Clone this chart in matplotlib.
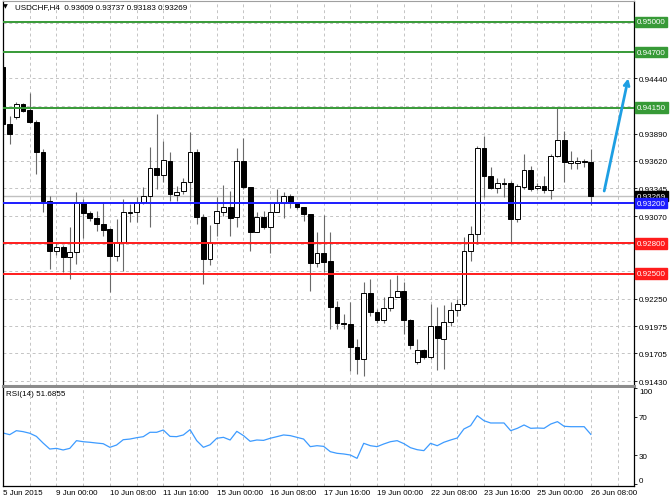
import matplotlib
matplotlib.use("Agg")
import matplotlib.pyplot as plt
import numpy as np

# USDCHF H4, 5 Jun 2015 16:00 .. 26 Jun 2015 08:00 (89 bars)
bar_open = [0.94553, 0.93986, 0.94056, 0.94185, 0.94125, 0.94006, 0.93708, 0.93221, 0.92724, 0.92763,
            0.92664, 0.92714, 0.93201, 0.93101, 0.93052, 0.92992, 0.92942, 0.92674, 0.92813, 0.93101,
            0.93111, 0.93211, 0.93270, 0.93549, 0.93479, 0.93618, 0.93280, 0.93320, 0.93410, 0.93708,
            0.93062, 0.92644, 0.93002, 0.93111, 0.93161, 0.93062, 0.93618, 0.93360, 0.92913, 0.93062,
            0.92962, 0.93111, 0.93201, 0.93270, 0.93201, 0.93161, 0.93092, 0.92604, 0.92704, 0.92624,
            0.92167, 0.92008, 0.91998, 0.91769, 0.91650, 0.92306, 0.92117, 0.92038, 0.92157, 0.92266,
            0.92326, 0.92038, 0.91620, 0.91740, 0.91670, 0.91978, 0.91849, 0.92018, 0.92137, 0.92197,
            0.92724, 0.92893, 0.93748, 0.93469, 0.93350, 0.93400, 0.93400, 0.93042, 0.93360, 0.93529,
            0.93350, 0.93370, 0.93330, 0.93668, 0.93827, 0.93598, 0.93598, 0.93618, 0.93609]
bar_high = [0.94573, 0.94066, 0.94205, 0.94195, 0.94294, 0.94026, 0.93738, 0.93270, 0.92803, 0.92783,
            0.92962, 0.93310, 0.93241, 0.93121, 0.93121, 0.93211, 0.92952, 0.93042, 0.93241, 0.93191,
            0.93260, 0.93360, 0.93757, 0.94086, 0.93817, 0.93708, 0.93370, 0.93449, 0.93907, 0.93738,
            0.93092, 0.92982, 0.93260, 0.93380, 0.93320, 0.93748, 0.93847, 0.93360, 0.93111, 0.93121,
            0.93211, 0.93340, 0.93310, 0.93290, 0.93211, 0.93161, 0.93092, 0.92913, 0.93082, 0.92913,
            0.92227, 0.92098, 0.92217, 0.91849, 0.92416, 0.92445, 0.92147, 0.92266, 0.92445, 0.92485,
            0.92416, 0.92048, 0.91849, 0.91750, 0.92197, 0.92167, 0.92187, 0.92217, 0.92247, 0.92863,
            0.92972, 0.93767, 0.93867, 0.93559, 0.93449, 0.93449, 0.93420, 0.93390, 0.93688, 0.93569,
            0.93400, 0.93469, 0.93688, 0.94155, 0.93917, 0.93718, 0.93658, 0.93638, 0.93737]
bar_low = [0.93966, 0.93787, 0.94036, 0.94105, 0.93996, 0.93489, 0.93111, 0.92545, 0.92684, 0.92515,
           0.92445, 0.92595, 0.92853, 0.93022, 0.92923, 0.92873, 0.92316, 0.92624, 0.92525, 0.93012,
           0.93012, 0.93191, 0.92962, 0.93340, 0.93410, 0.93221, 0.93221, 0.93290, 0.93221, 0.92992,
           0.92396, 0.92585, 0.92873, 0.93072, 0.92873, 0.92962, 0.93340, 0.92724, 0.92913, 0.92942,
           0.92704, 0.93111, 0.93052, 0.93151, 0.93141, 0.93022, 0.92326, 0.92565, 0.92515, 0.91948,
           0.91948, 0.91948, 0.91531, 0.91501, 0.91481, 0.92078, 0.92008, 0.92008, 0.92127, 0.92266,
           0.91899, 0.91750, 0.91600, 0.91650, 0.91650, 0.91541, 0.91551, 0.91978, 0.92078, 0.92177,
           0.92624, 0.92793, 0.93260, 0.93340, 0.93300, 0.93260, 0.92793, 0.93012, 0.93340, 0.93320,
           0.93330, 0.93300, 0.93241, 0.93658, 0.93410, 0.93539, 0.93539, 0.93559, 0.93183]
bar_close = [0.93986, 0.93887, 0.94185, 0.94115, 0.94006, 0.93708, 0.93221, 0.92724, 0.92763, 0.92664,
             0.92714, 0.93211, 0.93101, 0.93052, 0.92992, 0.92932, 0.92674, 0.92813, 0.93111, 0.93111,
             0.93211, 0.93270, 0.93549, 0.93479, 0.93628, 0.93290, 0.93310, 0.93410, 0.93708, 0.93062,
             0.92644, 0.92813, 0.93121, 0.93161, 0.93052, 0.93618, 0.93360, 0.92913, 0.93062, 0.92962,
             0.93111, 0.93201, 0.93270, 0.93201, 0.93161, 0.93092, 0.92604, 0.92704, 0.92614, 0.92167,
             0.92008, 0.91998, 0.91769, 0.91650, 0.92306, 0.92117, 0.92038, 0.92157, 0.92266, 0.92326,
             0.92038, 0.91789, 0.91740, 0.91670, 0.91978, 0.91859, 0.92018, 0.92137, 0.92197, 0.92724,
             0.92893, 0.93748, 0.93469, 0.93350, 0.93400, 0.93390, 0.93042, 0.93370, 0.93529, 0.93340,
             0.93370, 0.93330, 0.93668, 0.93827, 0.93608, 0.93618, 0.93618, 0.93608, 0.93269]

rsi_values = [53.2, 51.4, 55.6, 54.6, 52.9, 49.6, 42.6, 36.3, 37.0, 35.3,
              37.0, 45.1, 44.0, 43.4, 42.6, 41.9, 38.1, 40.5, 46.1, 46.8,
              48.2, 49.3, 53.9, 53.9, 56.3, 49.6, 49.3, 51.1, 56.7, 45.1,
              38.1, 40.8, 47.6, 48.6, 45.8, 54.9, 50.4, 44.4, 45.8, 45.4,
              47.6, 49.3, 51.1, 50.4, 48.6, 46.8, 38.8, 39.8, 39.1, 33.5,
              31.8, 31.1, 30.0, 26.5, 42.3, 39.8, 38.8, 41.6, 44.0, 45.1,
              42.0, 37.7, 35.6, 34.6, 42.3, 39.8, 43.4, 45.8, 47.9, 57.4,
              60.9, 71.4, 66.1, 63.7, 63.7, 63.7, 55.6, 58.1, 61.6, 58.1,
              58.4, 58.1, 62.6, 65.1, 60.2, 59.8, 59.8, 59.8, 51.69]

date_labels = ["5 Jun 2015", "9 Jun 00:00", "10 Jun 08:00", "11 Jun 16:00", "15 Jun 00:00",
               "16 Jun 08:00", "17 Jun 16:00", "19 Jun 00:00", "22 Jun 08:00", "23 Jun 16:00",
               "25 Jun 00:00", "26 Jun 08:00"]

price_ticks = [0.91430, 0.91705, 0.91975, 0.92250, 0.92520, 0.92795, 0.93070, 0.93345,
               0.93620, 0.93890, 0.94165, 0.94440, 0.94715, 0.94990]
hidden_ticks = [0.92520, 0.92795, 0.94165, 0.94715, 0.94990]

green_levels = [0.95000, 0.94700, 0.94150]
blue_levels = [0.93200]
red_levels = [0.92800, 0.92500]
last_price = 0.93269

arrow_from = (90.0, 0.93320)
arrow_to = (93.6, 0.94440)

plt.rcParams['font.family'] = ['Liberation Sans', 'DejaVu Sans']
plt.rcParams['font.size'] = 5.8

grid_kw = dict(color='#c4c4c4', linestyle=(0, (3, 3)), linewidth=0.7)

fig = plt.figure(figsize=(6.7, 5.02), dpi=100)
ax = fig.add_axes([3 / 670, 115 / 502, 631 / 670, 385 / 502])
ax2 = fig.add_axes([3 / 670, 15 / 502, 631 / 670, 98 / 502])

n = len(bar_open)
x = np.arange(n)
o = np.array(bar_open)
h = np.array(bar_high)
l = np.array(bar_low)
c = np.array(bar_close)
up = c >= o

# candles
ax.vlines(x, l, h, color='#6a6a6a', linewidth=0.8, zorder=2)
body = np.maximum(np.abs(c - o), 0.00003)
ax.bar(x, body, bottom=np.minimum(o, c), width=0.72,
       color=np.where(up, 'white', 'black'), edgecolor='black', linewidth=0.7, zorder=3)

# levels
ax.axhline(last_price, color='#c0c0c0', linewidth=1.0, zorder=1.5)
for lv in green_levels:
    ax.axhline(lv, color='#379a37', linewidth=1.4, zorder=4)
for lv in blue_levels:
    ax.axhline(lv, color='#1c1cff', linewidth=1.4, zorder=4)
for lv in red_levels:
    ax.axhline(lv, color='#ff1c1c', linewidth=1.4, zorder=4)

ax.annotate('', xy=arrow_to, xytext=arrow_from,
            arrowprops=dict(arrowstyle='->,head_length=0.6,head_width=0.3',
                            color='#1e9fe3', linewidth=2.0, shrinkA=0, shrinkB=0),
            zorder=5)

ax.set_xlim(0, 94.46)
ax.set_ylim(0.913818, 0.952087)
ax.set_xticks(np.arange(0, 95, 4))
ax.set_xticklabels([])
ax.tick_params(axis='x', length=0)
ax.yaxis.tick_right()
ax.set_yticks(price_ticks)
ax.set_yticklabels(['' if t in hidden_ticks else f'{t:.5f}' for t in price_ticks])
ax.tick_params(axis='y', direction='out', length=2.2, width=0.6, pad=1.5, colors='black')
ax.grid(True, **grid_kw)
ax.set_axisbelow(True)

# boxed level labels on the price scale
tr = ax.get_yaxis_transform()
boxes = [(lv, '#379a37', 'white') for lv in green_levels] + \
        [(last_price, 'black', 'white')] + \
        [(lv, '#1c1cff', 'white') for lv in blue_levels] + \
        [(lv, '#ff1c1c', 'white') for lv in red_levels]
for lv, bg, fg in boxes:
    ax.text(1.0045, lv, f'{lv:.5f}', transform=tr, ha='left', va='center', color=fg,
            bbox=dict(boxstyle='square,pad=0.22', facecolor=bg, edgecolor=bg), clip_on=False)

ax.text(0.0, 0.9935, '\u25bc', transform=ax.transAxes, ha='left', va='top', fontsize=4.5,
        family='DejaVu Sans')
ax.text(0.0185, 0.994, 'USDCHF,H4  0.93609 0.93737 0.93183 0.93269', transform=ax.transAxes,
        ha='left', va='top')

for side in ['left', 'right']:
    ax.spines[side].set_color('black')
    ax.spines[side].set_linewidth(0.9)
ax.spines['top'].set_color('#a0a0a0')
ax.spines['bottom'].set_color('#8c8c8c')
ax.spines['bottom'].set_linewidth(2.2)

# RSI panel
ax2.plot(x, rsi_values, color='#3d9bff', linewidth=0.9)
ax2.set_xlim(0, 94.46)
ax2.set_ylim(-2.6, 100.5)
ax2.yaxis.tick_right()
ax2.set_yticks([0, 30, 70, 100])
ax2.set_yticklabels(['0', '30', '70', '100'])
ax2.tick_params(axis='y', direction='out', length=2.2, width=0.6, pad=1.5)
yl = ax2.get_yticklabels()
yl[0].set_va('bottom')
yl[3].set_va('top')
ax2.set_xticks(np.arange(0, 95, 4))
ax2.set_xticklabels([date_labels[i // 8] if i % 8 == 0 else '' for i in range(0, 95, 4)],
                    ha='left')
ax2.tick_params(axis='x', length=0, pad=2)
ax2.set_yticks([30, 70], minor=True)
ax2.grid(False)
ax2.grid(True, axis='x', **grid_kw)
ax2.grid(True, axis='y', which='minor', **grid_kw)
ax2.tick_params(axis='y', which='minor', length=0)
ax2.set_axisbelow(True)
ax2.text(0.004, 0.975, 'RSI(14) 51.6855', transform=ax2.transAxes, ha='left', va='top')
ax2.spines['top'].set_visible(False)
for side in ['left', 'right', 'bottom']:
    ax2.spines[side].set_color('black')
    ax2.spines[side].set_linewidth(0.9)

fig.savefig('out.png', dpi=100, facecolor='white')
